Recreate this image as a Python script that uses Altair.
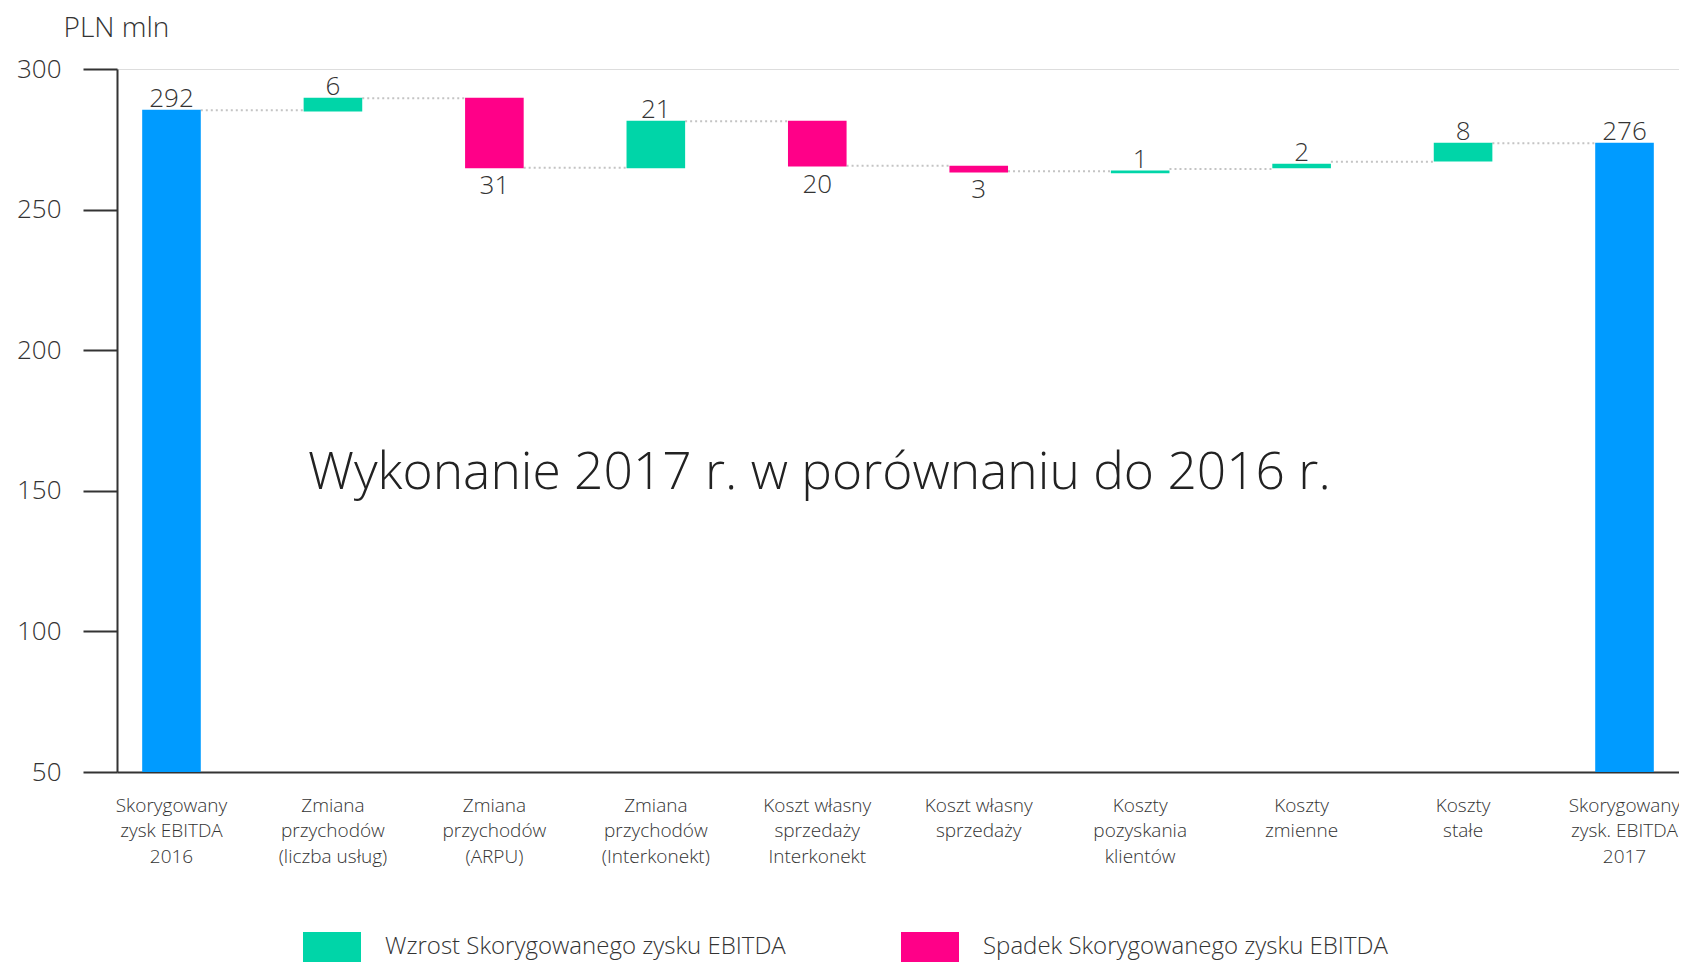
import altair as alt
import pandas as pd

# ---- data ----
categories = [
    "Skorygowany|zysk EBITDA|2016",
    "Zmiana|przychodów|(liczba usług)",
    "Zmiana|przychodów|(ARPU)",
    "Zmiana|przychodów|(Interkonekt)",
    "Koszt własny|sprzedaży|Interkonekt",
    "Koszt własny|sprzedaży",
    "Koszty|pozyskania|klientów",
    "Koszty|zmienne",
    "Koszty|stałe",
    "Skorygowany|zysk. EBITDA|2017",
]
TOTAL = "Skorygowany zysk EBITDA"
UP = "Wzrost Skorygowanego zysku EBITDA"
DOWN = "Spadek Skorygowanego zysku EBITDA"
kinds = [TOTAL, UP, DOWN, UP, DOWN, DOWN, UP, UP, UP, TOTAL]
value_labels = ["292", "6", "31", "21", "20", "3", "1", "2", "8", "276"]
# bar extents as drawn in the reference (axis units)
bar_lo = [50, 284.9, 264.7, 264.7, 265.3, 263.2, 262.9, 264.7, 267.1, 50]
bar_hi = [285.5, 289.8, 289.8, 281.6, 281.6, 265.6, 263.9, 266.3, 273.8, 273.8]
# dotted connector levels between consecutive bars
connector_levels = [285.3, 289.6, 264.9, 281.4, 265.6, 263.6, 264.4, 267.0, 273.6]
y_ticks = [50, 100, 150, 200, 250, 300]

BLUE = "#009bff"
GREEN = "#00d5a8"
PINK = "#ff0088"
FONT = "Open Sans"
TXT = "#333333"

df = pd.DataFrame({
    "cat": categories,
    "kind": kinds,
    "lo": bar_lo,
    "hi": bar_hi,
    "label": value_labels,
})
df["label_y"] = [lo if k == DOWN else hi for k, lo, hi in zip(kinds, bar_lo, bar_hi)]
df["pos"] = ["below" if k == DOWN else "above" for k in kinds]

conn = pd.DataFrame({
    "from": categories[:-1],
    "to": categories[1:],
    "level": connector_levels,
})

xscale = alt.Scale(domain=categories, paddingInner=0.637, paddingOuter=0.156)
yscale = alt.Scale(domain=[50, 300], nice=False, zero=False)

x_axis = alt.Axis(
    title=None, labelExpr="split(datum.value, '|')", labelAngle=0, ticks=False,
    grid=False, domainColor=TXT, domainWidth=2, labelFontSize=19,
    labelLineHeight=25.5, labelPadding=24, labelColor=TXT, labelFont=FONT,
    labelFontWeight=300, labelLimit=300, labelBaseline="top", labelAlign="center",
)
y_axis = alt.Axis(
    values=y_ticks, grid=False, tickSize=34, tickWidth=2, tickColor=TXT,
    domainWidth=2, domainColor=TXT, labelFontSize=26, labelPadding=22,
    labelColor=TXT, labelFont=FONT, labelFontWeight=300,
    title="PLN mln", titleAngle=0, titleX=-1, titleY=-41, titleAlign="center",
    titleBaseline="middle", titleFontSize=28, titleFontWeight=300,
    titleColor=TXT, titleFont=FONT,
)

base = alt.Chart(df)

bars = base.mark_bar().encode(
    x=alt.X("cat:N", scale=xscale, axis=x_axis, sort=None),
    y=alt.Y("lo:Q", scale=yscale, axis=y_axis),
    y2="hi:Q",
    color=alt.Color(
        "kind:N",
        scale=alt.Scale(domain=[TOTAL, UP, DOWN], range=[BLUE, GREEN, PINK]),
        legend=alt.Legend(
            title=None, values=[UP, DOWN], orient="none", legendX=186, legendY=849,
            direction="horizontal", symbolType="M-1,-0.517H1V0.517H-1Z",
            symbolSize=3364, symbolStrokeWidth=0, symbolOpacity=1,
            labelFontSize=24, labelFont=FONT, labelFontWeight=300,
            labelColor=TXT, labelOffset=24, labelLimit=700, columnPadding=115,
            padding=0,
        ),
    ),
)

connectors = alt.Chart(conn).mark_rule(
    color="#c4c4c4", strokeWidth=2, strokeDash=[2, 3]
).encode(
    x=alt.X("from:N", scale=xscale, bandPosition=1, sort=None),
    x2=alt.X2("to:N", bandPosition=0),
    y=alt.Y("level:Q", scale=yscale),
)

above = base.transform_filter(alt.datum.pos == "above").mark_text(
    baseline="bottom", dy=2, fontSize=26, font=FONT, fontWeight=300, color=TXT
).encode(
    x=alt.X("cat:N", scale=xscale, sort=None),
    y=alt.Y("label_y:Q", scale=yscale),
    text="label:N",
)
below = base.transform_filter(alt.datum.pos == "below").mark_text(
    baseline="top", dy=5, fontSize=26, font=FONT, fontWeight=300, color=TXT
).encode(
    x=alt.X("cat:N", scale=xscale, sort=None),
    y=alt.Y("label_y:Q", scale=yscale),
    text="label:N",
)

chart = alt.layer(connectors, bars, above, below).properties(
    width=1562,
    height=703,
    autosize=alt.AutoSizeParams(type="none"),
    padding={"left": 109, "top": 61, "right": 0, "bottom": 190},
    title=alt.TitleParams(
        text="Wykonanie 2017 r. w porównaniu do 2016 r.",
        fontSize=51.5, fontWeight=300, font=FONT, color="#222222",
        anchor="start", frame="group", dx=191, dy=526, offset=0,
        baseline="alphabetic",
    ),
).configure_view(
    stroke="transparent", strokeWidth=0
).configure_axis(grid=False).configure(font=FONT)

chart.save("out.html", embed_options={"renderer": "svg", "actions": False})
